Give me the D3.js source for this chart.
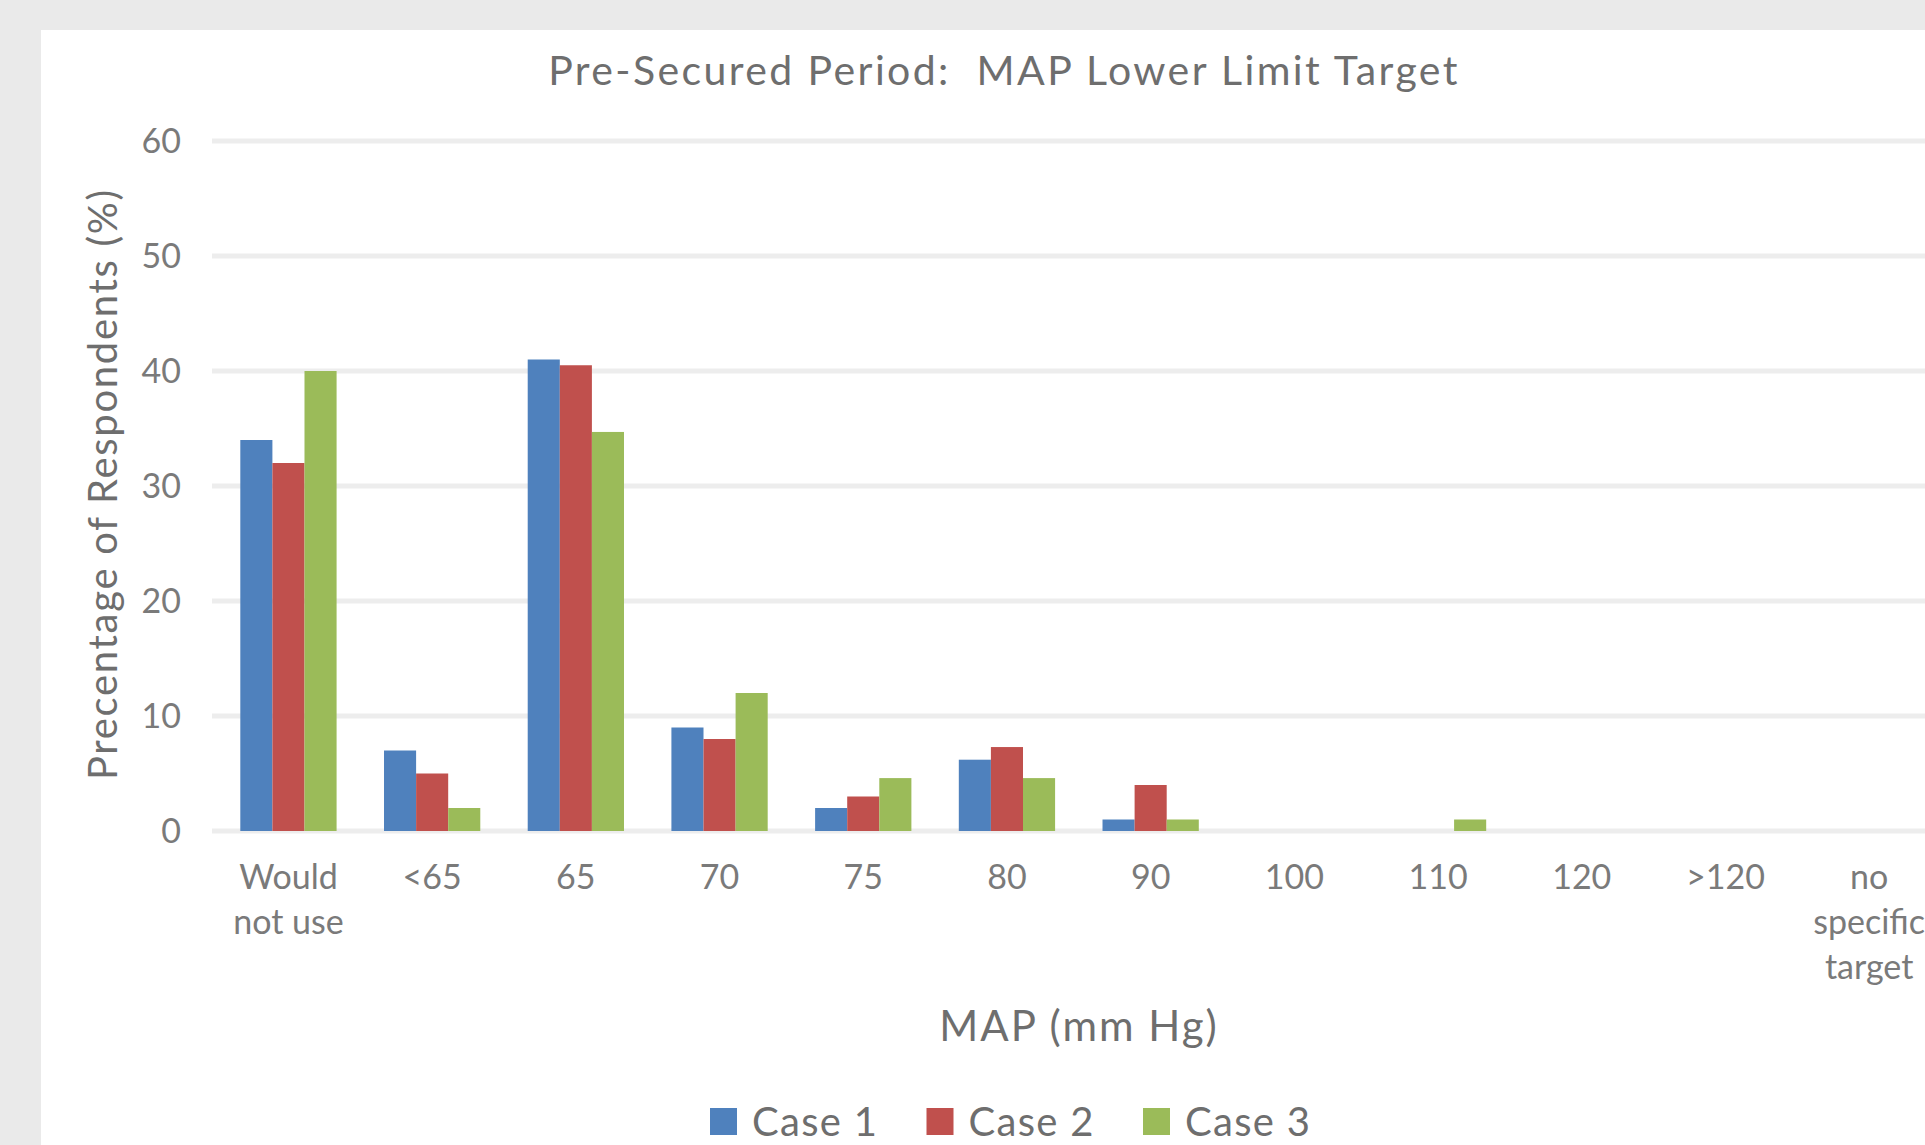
<!DOCTYPE html>
<html lang="en">
<head>
    <meta charset="UTF-8">
    <title>Pre-Secured Period: MAP Lower Limit Target</title>
    <script src="https://d3js.org/d3.v7.min.js"></script>
    <style>
        body { margin: 0; background: #eaeaea; }
        svg { display: block; font-family: Lato, "Open Sans", sans-serif; }
        .grid line { stroke: #ededed; stroke-width: 5px; }
        .tick-label { fill: #7a7a7a; font-size: 34px; }
        .axis-title { fill: #6e6e6e; font-size: 40px; white-space: pre; }
        .legend text { fill: #6e6e6e; font-size: 40px; letter-spacing: 1.3px; }
    </style>
</head>
<body>
    <svg id="chart" width="1925" height="1145"></svg>

    <script>
        const categories = ["Would not use", "<65", "65", "70", "75", "80", "90", "100", "110", "120", ">120", "no specific target"];
        const seriesNames = ["Case 1", "Case 2", "Case 3"];
        const case1 = [34, 7, 41, 9, 2, 6.2, 1, 0, 0, 0, 0, 0];
        const case2 = [32, 5, 40.5, 8, 3, 7.3, 4, 0, 0, 0, 0, 0];
        const case3 = [40, 2, 34.7, 12, 4.6, 4.6, 1, 0, 1, 0, 0, 0];
        const yTicks = [0, 10, 20, 30, 40, 50, 60];
        const colors = ["#4f81bd", "#c0504d", "#9bbb59"];

        const width = 1925;
        const height = 1145;

        const svg = d3.select("#chart");

        // white chart area
        svg.append("rect")
            .attr("x", 41).attr("y", 30)
            .attr("width", width - 41).attr("height", height - 30)
            .attr("fill", "#fff");

        const x0 = d3.scaleBand()
            .domain(categories)
            .range([216.6, 1941])
            .paddingInner(0.33)
            .paddingOuter(0.165);

        const x1 = d3.scaleBand()
            .domain(seriesNames)
            .range([0, x0.bandwidth()]);

        const y = d3.scaleLinear()
            .domain([0, 60])
            .range([831, 141]);

        const color = d3.scaleOrdinal().domain(seriesNames).range(colors);

        // gridlines
        svg.append("g").attr("class", "grid")
            .selectAll("line")
            .data(yTicks)
            .enter().append("line")
            .attr("x1", 212).attr("x2", width)
            .attr("y1", d => y(d)).attr("y2", d => y(d));

        // y tick labels
        svg.append("g")
            .selectAll("text")
            .data(yTicks)
            .enter().append("text")
            .attr("class", "tick-label")
            .attr("x", 181)
            .attr("y", d => y(d))
            .attr("dy", "0.35em")
            .attr("text-anchor", "end")
            .text(d => d);

        // bars
        const rows = categories.map((c, i) => ({
            cat: c,
            values: [case1[i], case2[i], case3[i]].map((v, j) => ({ name: seriesNames[j], value: v }))
        }));

        const groups = svg.append("g")
            .selectAll("g")
            .data(rows)
            .enter().append("g")
            .attr("transform", d => `translate(${x0(d.cat)},0)`);

        groups.selectAll("rect")
            .data(d => d.values)
            .enter().append("rect")
            .attr("x", d => x1(d.name))
            .attr("width", x1.bandwidth())
            .attr("y", d => y(d.value))
            .attr("height", d => y(0) - y(d.value))
            .attr("fill", d => color(d.name));

        // x tick labels, wrapped
        const xLabelLines = {
            "Would not use": ["Would", "not use"],
            "no specific target": ["no", "specific", "target"]
        };
        const xl = svg.append("g")
            .selectAll("text")
            .data(categories)
            .enter().append("text")
            .attr("class", "tick-label")
            .attr("text-anchor", "middle")
            .attr("x", d => x0(d) + x0.bandwidth() / 2)
            .attr("y", 889);
        xl.each(function(d) {
            const lines = xLabelLines[d] || [d];
            d3.select(this).selectAll("tspan")
                .data(lines)
                .enter().append("tspan")
                .attr("x", x0(d) + x0.bandwidth() / 2)
                .attr("dy", (l, i) => i === 0 ? 0 : 45)
                .text(l => l);
        });

        // titles
        svg.append("text")
            .attr("class", "axis-title")
            .attr("x", 1004).attr("y", 85)
            .attr("text-anchor", "middle")
            .style("font-size", "41px")
            .style("letter-spacing", "2.4px")
            .text("Pre-Secured Period:  MAP Lower Limit Target");

        svg.append("text")
            .attr("class", "axis-title")
            .attr("transform", "translate(117,484) rotate(-90)")
            .attr("text-anchor", "middle")
            .style("letter-spacing", "1.7px")
            .text("Precentage of Respondents (%)");

        svg.append("text")
            .attr("class", "axis-title")
            .attr("x", 1079).attr("y", 1041)
            .attr("text-anchor", "middle")
            .style("font-size", "42px")
            .style("letter-spacing", "2px")
            .text("MAP (mm Hg)");

        // legend
        const legend = svg.append("g").attr("class", "legend")
            .selectAll("g")
            .data(seriesNames)
            .enter().append("g")
            .attr("transform", (d, i) => `translate(${710 + i * 216.5},1108)`);

        legend.append("rect")
            .attr("width", 27).attr("height", 27)
            .attr("fill", d => color(d));

        legend.append("text")
            .attr("x", 42).attr("y", 28)
            .text(d => d);
    </script>
</body>
</html>
